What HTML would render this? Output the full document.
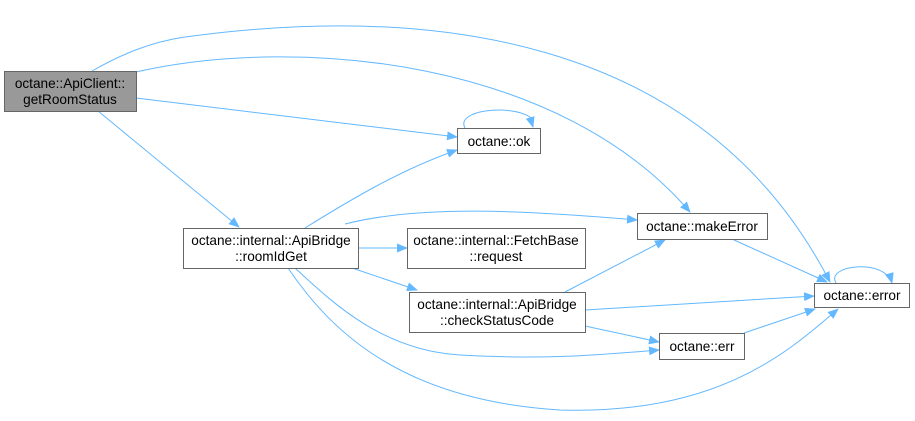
<!DOCTYPE html>
<html><head><style>
body{margin:0;background:#fff;width:915px;height:416px;overflow:hidden}
text{font-family:"Liberation Sans",Helvetica,sans-serif;font-size:13.6px;fill:#000}
</style></head><body>
<svg width="915" height="416" viewBox="0 0 915 416" xmlns="http://www.w3.org/2000/svg">
<defs><marker id="a" markerWidth="11" markerHeight="9" refX="10" refY="4.5" orient="auto" markerUnits="userSpaceOnUse"><path d="M0,0 L11,4.5 L0,9 z" fill="#63b8ff"/></marker></defs>
<g fill="none" stroke="#63b8ff" stroke-width="1" marker-end="url(#a)">
<path d="M92,71 C120,55 150,42 185,37 C420,5 700,30 830,282"/>
<path d="M136,72 C300,35 560,60 690,212"/>
<path d="M136,98 L457,137"/>
<path d="M98,111 L239,227"/>
<path d="M305,228 C350,200 400,170 457,150"/>
<path d="M345,224 C420,205 520,210 637,220"/>
<path d="M358,248 L407,248"/>
<path d="M352,268 L417,290"/>
<path d="M295,268 C330,300 380,350 460,355 C540,360 600,355 659,350"/>
<path d="M288,268 C330,330 400,400 560,410 C720,415 790,350 838,309"/>
<path d="M565,292 L665,240"/>
<path d="M585,310 L814,296"/>
<path d="M585,326 L659,342"/>
<path d="M732,239 L827,282"/>
<path d="M744,333 L815,309"/>
<path d="M465,128 C455,110 510,104 530,117 L533,127" />
<path d="M836,283 C825,265 885,258 892,283"/>
</g>
<g stroke="#666" stroke-width="1">
<rect x="4.5" y="71.5" width="132" height="40" fill="#999"/>
<rect x="457.5" y="128.5" width="83" height="25" fill="#fff"/>
<rect x="183.5" y="228.5" width="175" height="40" fill="#fff"/>
<rect x="407.5" y="228.5" width="178" height="40" fill="#fff"/>
<rect x="409.5" y="292.5" width="176" height="40" fill="#fff"/>
<rect x="637.5" y="213.5" width="130" height="26" fill="#fff"/>
<rect x="814.5" y="283.5" width="95" height="24" fill="#fff"/>
<rect x="659.5" y="333.5" width="85" height="26" fill="#fff"/>
</g>
<g text-anchor="middle">
<text x="70" y="88">octane::ApiClient::</text><text x="70" y="104">getRoomStatus</text>
<text x="499" y="146">octane::ok</text>
<text x="271" y="245">octane::internal::ApiBridge</text><text x="271" y="261">::roomIdGet</text>
<text x="496" y="245">octane::internal::FetchBase</text><text x="496" y="261">::request</text>
<text x="497" y="309">octane::internal::ApiBridge</text><text x="497" y="325">::checkStatusCode</text>
<text x="702" y="231">octane::makeError</text>
<text x="862" y="300">octane::error</text>
<text x="702" y="351">octane::err</text>
</g>
</svg>
</body></html>
